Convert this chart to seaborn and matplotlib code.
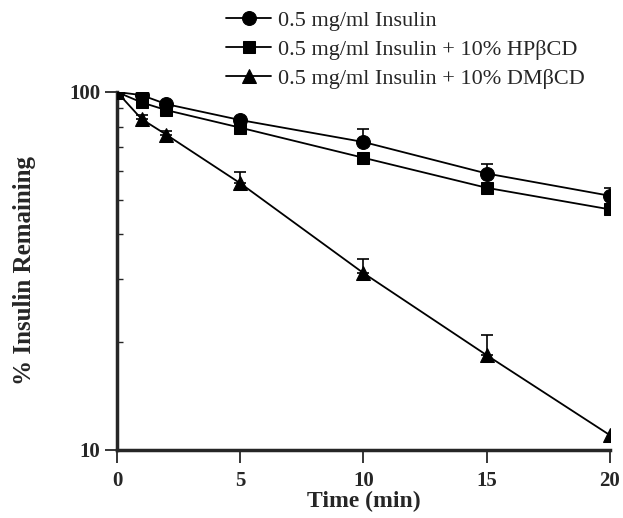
import numpy as np
import pandas as pd
import matplotlib
matplotlib.use("Agg")
import matplotlib.pyplot as plt
import seaborn as sns

# ---- data --------------------------------------------------------------
time_min = [0, 1, 2, 5, 10, 15, 20]

insulin = [100, 98.0, 92.5, 83.5, 72.5, 59.2, 51.3]
insulin_err = [0, 0, 0, 0, 6.5, 3.8, 2.8]

insulin_hp = [100, 93.5, 89.0, 79.5, 65.5, 54.0, 47.0]
insulin_hp_err = [0, 0, 0, 0, 0, 0, 0]

insulin_dm = [100, 84.0, 76.0, 55.6, 31.2, 18.4, 11.0]
insulin_dm_err = [0, 2.0, 2.0, 4.0, 2.9, 2.5, 0]

labels = [
    "0.5 mg/ml Insulin",
    "0.5 mg/ml Insulin + 10% HP\u03b2CD",
    "0.5 mg/ml Insulin + 10% DM\u03b2CD",
]
markers = ["o", "s", "^"]

sns.set_style("ticks")
plt.rcParams["font.family"] = ["Liberation Serif", "DejaVu Serif"]

fig = plt.figure(figsize=(6.23, 5.18), dpi=100)
ax = fig.add_axes([0.1878, 0.1313, 0.7912, 0.6911])

series = [(insulin, insulin_err), (insulin_hp, insulin_hp_err), (insulin_dm, insulin_dm_err)]
for (vals, err), lab, mk in zip(series, labels, markers):
    sns.lineplot(x=time_min, y=vals, ax=ax, color="black", lw=1.3,
                 marker=mk, markersize=10 if mk != "s" else 9,
                 markeredgecolor="black", markerfacecolor="black",
                 label=lab, zorder=3)
    err = np.array(err)
    keep = err > 0
    if keep.any():
        ax.errorbar(np.array(time_min)[keep], np.array(vals)[keep],
                    yerr=[np.zeros(keep.sum()), err[keep]],
                    fmt="none", ecolor="black", elinewidth=1.2,
                    capsize=4, capthick=1.2, zorder=2)

ax.set_yscale("log")
ax.set_xlim(0, 20)
ax.set_ylim(10, 100)
ax.set_xticks([0, 5, 10, 15, 20])
ax.set_yticks([10, 100])
ax.set_yticklabels(["10", "100"])
ax.yaxis.set_minor_locator(matplotlib.ticker.LogLocator(base=10, subs=np.arange(2, 10)))
ax.yaxis.set_minor_formatter(matplotlib.ticker.NullFormatter())

for s in ("top", "right"):
    ax.spines[s].set_visible(False)
for s in ("left", "bottom"):
    ax.spines[s].set_linewidth(2.5)

ax.tick_params(axis="both", which="major", direction="out", length=9, width=1.3,
               labelsize=15)
ax.tick_params(axis="x", which="major", pad=6)
ax.tick_params(axis="y", which="major", pad=3)
ax.tick_params(axis="y", which="minor", direction="in", length=4, width=1.0)
for t in ax.get_xticklabels() + ax.get_yticklabels():
    t.set_fontweight("bold")

ax.set_xlabel("Time (min)", fontsize=17, fontweight="bold", labelpad=0)
ax.set_ylabel("% Insulin Remaining", fontsize=18, fontweight="bold", labelpad=24)

leg = ax.legend(loc="upper left", bbox_to_anchor=(0.342, 1.006), bbox_transform=fig.transFigure,
                frameon=False, fontsize=16, handlelength=2.0, handletextpad=0.3,
                labelspacing=0.38, borderpad=0.1)

fig.savefig("out.png", dpi=100)
